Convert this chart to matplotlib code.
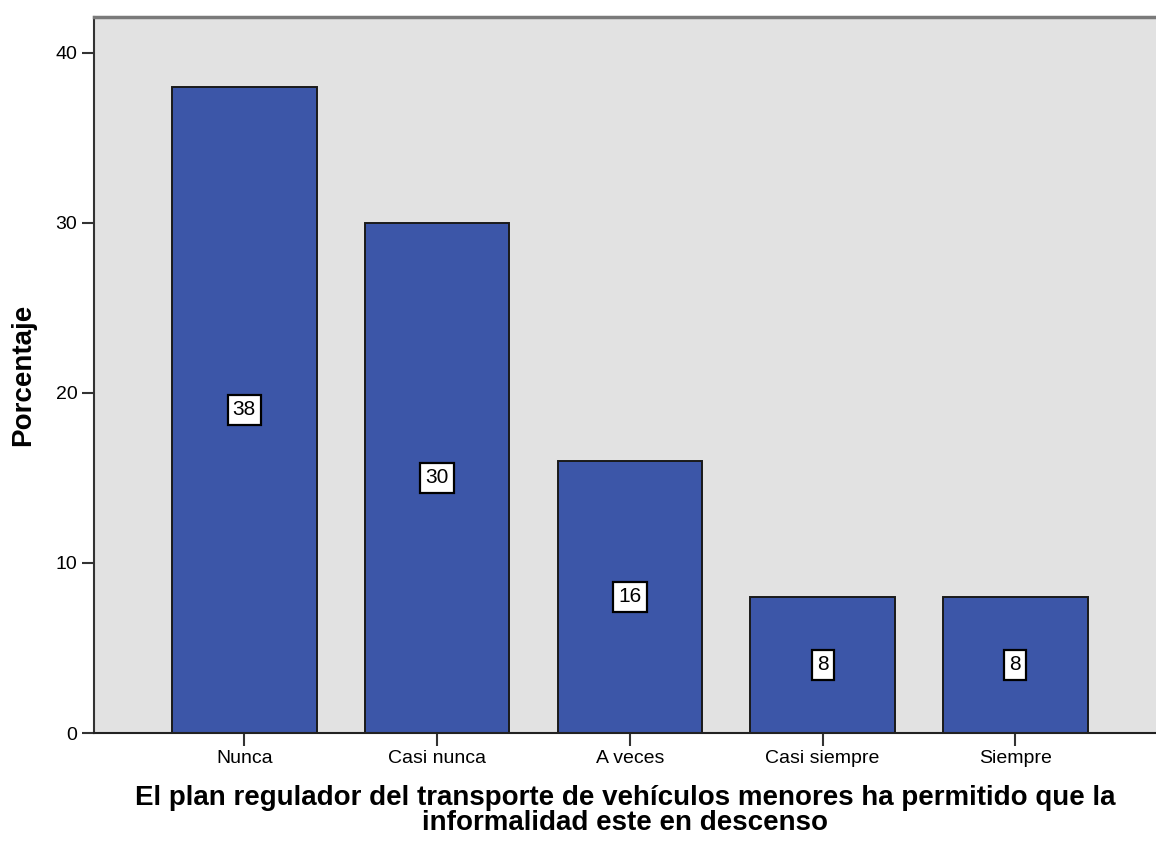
import matplotlib.pyplot as plt
import numpy as np

plt.rcParams.update({
    "font.family": ["Liberation Sans", "DejaVu Sans"]})

categorias = ["Nunca", "Casi nunca", "A veces", "Casi siempre", "Siempre"]
porcentaje = [38, 30, 16, 8, 8]
yticks = [0, 10, 20, 30, 40]

fig = plt.figure(figsize=(11.56, 8.43), dpi=100)
ax = fig.add_axes([94 / 1156, 110 / 843, 1 - 94 / 1156, 716 / 843])
ax.set_facecolor("#e2e2e2")

x = np.arange(len(categorias))
ax.bar(x, porcentaje, width=0.75, color="#3c56a8", edgecolor="#1a1a1a",
       linewidth=1.4, zorder=2)

# value labels in white boxes, at half height
for xi, v in zip(x, porcentaje):
    ax.text(xi, v / 2, str(v), ha="center", va="center", fontsize=15,
            zorder=3,
            bbox=dict(boxstyle="square,pad=0.25", fc="white", ec="black",
                      lw=1.6))

ax.set_xlim(-0.78, 4.73)
ax.set_ylim(0, 42.1)
ax.set_xticks(x)
ax.set_xticklabels(categorias, fontsize=14)
ax.set_yticks(yticks)
ax.set_yticklabels([str(t) for t in yticks], fontsize=14)
ax.tick_params(axis="both", direction="out", length=9, width=1.5,
               color="#333333", pad=3)

ax.spines["right"].set_visible(False)
ax.spines["top"].set_color("#7a7a7a")
ax.spines["top"].set_linewidth(2.5)
ax.spines["left"].set_color("#333333")
ax.spines["left"].set_linewidth(1.5)
ax.spines["bottom"].set_color("#222222")
ax.spines["bottom"].set_linewidth(1.5)

ax.set_ylabel("Porcentaje", fontsize=20, fontweight="bold", labelpad=14)
ax.set_xlabel("El plan regulador del transporte de vehículos menores ha permitido que la\n"
              "informalidad este en descenso", fontsize=20, fontweight="bold",
              labelpad=13, linespacing=0.95)

fig.savefig("out.png", dpi=100)
